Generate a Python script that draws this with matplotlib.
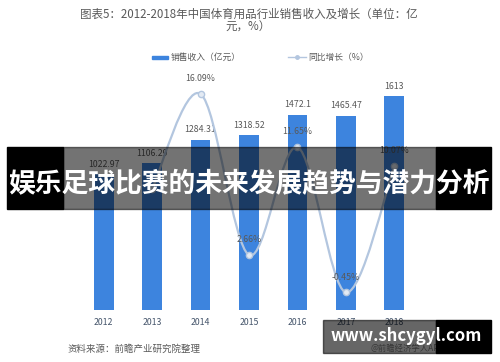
import matplotlib
matplotlib.use("Agg")
import matplotlib.pyplot as plt
from matplotlib.path import Path
from matplotlib.patches import PathPatch, Rectangle
import numpy as np

plt.rcParams["font.family"] = ["Noto Sans CJK SC", "DejaVu Sans"]

years = ["2012", "2013", "2014", "2015", "2016", "2017", "2018"]
revenue = [1022.97, 1106.29, 1284.31, 1318.52, 1472.1, 1465.47, 1613]
growth_years = ["2013", "2014", "2015", "2016", "2017", "2018"]
growth = [8.15, 16.09, 2.66, 11.65, -0.45, 10.07]
growth_labels = ["", "16.09%", "2.66%", "11.65%", "-0.45%", "10.07%"]

BAR_COLOR = "#3D84DE"
LINE_COLOR = "#B3C6DF"
TEXT_COLOR = "#595959"

W, H = 500, 362
fig = plt.figure(figsize=(5, 3.62), dpi=100)

# axes placed in pixel terms: bottom at y=310, top at y=80
ax = fig.add_axes([60 / W, 1 - 310 / H, 378 / W, 230 / H])
x = np.arange(len(years))
ax.bar(x, revenue, width=0.41, color=BAR_COLOR, zorder=2)
for xi, v in zip(x, revenue):
    ax.text(xi, v + 40, f"{v:g}", ha="center", va="bottom", fontsize=6.3, color=TEXT_COLOR)
ax.set_xlim(-0.9, 6.9)
ax.set_ylim(0, 1733)
ax.set_xticks(x)
ax.set_xticklabels(years, fontsize=6.3, color="#44546A")
ax.tick_params(axis="x", length=0, pad=6)
ax.set_yticks([])
for s in ax.spines.values():
    s.set_visible(False)

ax2 = ax.twinx()
ax2.set_ylim(-1.92, 17.25)
ax2.set_yticks([])
for s in ax2.spines.values():
    s.set_visible(False)

gx = np.array([years.index(y) for y in growth_years], dtype=float)
gy = np.array(growth)

# smooth curve through the points (Catmull-Rom -> cubic Bezier)
verts = [(gx[0], gy[0])]
codes = [Path.MOVETO]
n = len(gx)
for i in range(n - 1):
    p0 = np.array([gx[max(i - 1, 0)], gy[max(i - 1, 0)]])
    p1 = np.array([gx[i], gy[i]])
    p2 = np.array([gx[i + 1], gy[i + 1]])
    p3 = np.array([gx[min(i + 2, n - 1)], gy[min(i + 2, n - 1)]])
    c1 = p1 + (p2 - p0) / 6
    c2 = p2 - (p3 - p1) / 6
    verts += [tuple(c1), tuple(c2), tuple(p2)]
    codes += [Path.CURVE4] * 3
ax2.add_patch(PathPatch(Path(verts, codes), facecolor="none", edgecolor=LINE_COLOR, lw=1.6, zorder=3))
ax2.plot(gx, gy, "o", color="#E3EAF3", markeredgecolor=LINE_COLOR, markersize=4.5, zorder=4)
for xi, v, lab in zip(gx, gy, growth_labels):
    if lab:
        ax2.text(xi, v + 0.9, lab, ha="center", va="bottom", fontsize=6.3, color=TEXT_COLOR)

# title
fig.text(0.497, 1 - 14 / H, "图表5：2012-2018年中国体育用品行业销售收入及增长（单位：亿",
         ha="center", va="center", fontsize=8.3, color=TEXT_COLOR)
fig.text(0.497, 1 - 27 / H, "元，%）", ha="center", va="center", fontsize=8.3, color=TEXT_COLOR)

# legend
fig.patches.append(Rectangle((152 / W, 1 - 59 / H), 16 / W, 3 / H, color=BAR_COLOR,
                             transform=fig.transFigure, figure=fig))
fig.text(171 / W, 1 - 57 / H, "销售收入（亿元）", ha="left", va="center", fontsize=6.3, color=TEXT_COLOR)
fig.lines.append(plt.Line2D([288 / W, 306 / W], [1 - 57 / H] * 2, color=LINE_COLOR, lw=1,
                            transform=fig.transFigure))
fig.lines.append(plt.Line2D([297 / W], [1 - 57 / H], color=LINE_COLOR, marker="o", markersize=2.5,
                            transform=fig.transFigure))
fig.text(308 / W, 1 - 57 / H, "同比增长（%）", ha="left", va="center", fontsize=6.3, color=TEXT_COLOR)

# source
fig.text(68 / W, 1 - 349 / H, "资料来源：前瞻产业研究院整理", ha="left", va="center",
         fontsize=6.8, color=TEXT_COLOR, style="italic")

# overlay banner
fig.patches.append(Rectangle((7 / W, 1 - 209 / H), 56 / W, 62 / H, color="black",
                             transform=fig.transFigure, figure=fig, zorder=5))
fig.patches.append(Rectangle((63 / W, 1 - 209 / H), 373 / W, 62 / H, color="black", alpha=0.55,
                             transform=fig.transFigure, figure=fig, zorder=5))
fig.patches.append(Rectangle((436 / W, 1 - 209 / H), 55 / W, 62 / H, color="black",
                             transform=fig.transFigure, figure=fig, zorder=5))
fig.text(249 / W, 1 - 184 / H, "娱乐足球比赛的未来发展趋势与潜力分析", ha="center", va="center",
         fontsize=19.3, color="white", fontweight="bold", zorder=6)

# site mark
fig.text(407 / W, 1 - 348 / H, "@前瞻经济学人APP", ha="center", va="center", fontsize=6,
         color="#888888")
fig.patches.append(Rectangle((323 / W, 1 - 353 / H), 113 / W, 33 / H, color="black", alpha=0.6,
                             transform=fig.transFigure, figure=fig, zorder=5))
fig.patches.append(Rectangle((436 / W, 1 - 353 / H), 55 / W, 33 / H, color="black",
                             transform=fig.transFigure, figure=fig, zorder=5))
fig.text(406 / W, 1 - 336 / H, "www.shcygyl.com", ha="center", va="center", fontsize=12,
         color="white", fontweight="bold", zorder=6)

fig.savefig("out.png", dpi=100)
